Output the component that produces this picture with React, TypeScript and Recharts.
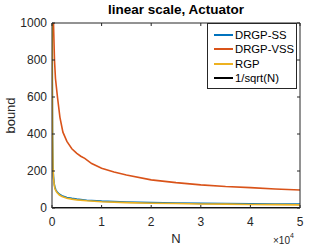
import { LineChart, Line, XAxis, YAxis } from "recharts";

const ssN = [10, 30, 60, 100, 150, 200, 300, 450, 600, 800, 1000, 1500, 2000, 3000, 4000, 5000, 7000, 10000, 15000, 20000, 25000, 30000, 35000, 40000, 45000, 50000];
const ssValues = [3000, 1400, 700, 420, 300, 220, 170, 130, 110, 97, 88, 74, 66, 57, 52, 48, 42, 37, 32, 29, 27, 25, 24, 23, 22, 22];
const rgpValues = [3000, 1350, 680, 400, 285, 210, 160, 124, 104, 92, 84, 70, 62, 53, 48, 44, 39, 34, 29, 26, 24, 22, 21, 19, 18, 17];

const vssN = [100, 300, 500, 700, 1100, 1600, 2200, 3000, 4000, 5000, 5800, 6600, 8000, 10000, 12500, 15000, 20000, 25000, 30000, 35000, 40000, 45000, 50000];
const vssValues = [2000, 1000, 800, 700, 600, 490, 410, 360, 320, 295, 280, 268, 240, 215, 195, 178, 152, 137, 125, 116, 110, 103, 97];

const invN = [1, 10, 100, 1000, 10000, 50000];
const invValues = [1, 0.32, 0.1, 0.032, 0.01, 0.0045];

const xTicks = [0, 10000, 20000, 30000, 40000, 50000];
const yTicks = [0, 200, 400, 600, 800, 1000];

const seriesNames = ["DRGP-SS", "DRGP-VSS", "RGP", "1/sqrt(N)"];
const colors = ["#0072BD", "#D95319", "#EDB120", "#000000"];

const zip = (ns: number[], vs: number[]) => ns.map((n, i) => ({ n, v: vs[i] }));

const ssData = zip(ssN, ssValues);
const vssData = zip(vssN, vssValues);
const rgpData = zip(ssN, rgpValues);
const invData = zip(invN, invValues);

const FONT = '"Liberation Sans", Arial, Helvetica, sans-serif';
const AXIS = "#262626";

const LegendBox = () => (
  <div
    style={{
      position: "absolute",
      left: 207,
      top: 23,
      width: 90,
      background: "#fff",
      border: "1px solid #262626",
      padding: "4px 0 3px 6px",
      boxSizing: "border-box",
      fontFamily: FONT,
      fontSize: 11.3,
      color: "#000",
      lineHeight: "14.3px",
    }}
  >
    {seriesNames.map((name, i) => (
      <div key={name} style={{ display: "flex", alignItems: "center" }}>
        <span style={{ display: "inline-block", width: 19, height: 2, background: colors[i], marginRight: 2 }} />
        <span>{name}</span>
      </div>
    ))}
  </div>
);

export default function App() {
  return (
    <div style={{ position: "absolute", left: 0, top: 0, width: 332, height: 249, background: "#fff", fontFamily: FONT }}>
      <LineChart width={332} height={249} margin={{ top: 22, right: 31, bottom: 1, left: 0 }}>
        <XAxis
          xAxisId="b"
          type="number"
          dataKey="n"
          domain={[0, 50000]}
          ticks={xTicks}
          allowDataOverflow
          height={40}
          stroke={AXIS}
          tickSize={-3}
          tickMargin={12}
          tick={{ fill: AXIS, fontSize: 12, fontFamily: FONT }}
          tickFormatter={(v: number) => String(v / 10000)}
          label={{ value: "N", position: "insideBottom", offset: 5, fill: AXIS, fontSize: 13, fontFamily: FONT }}
        />
        <XAxis
          xAxisId="t"
          orientation="top"
          type="number"
          dataKey="n"
          domain={[0, 50000]}
          ticks={xTicks}
          allowDataOverflow
          height={1}
          stroke={AXIS}
          tickSize={-3}
          tickMargin={0}
          tick={{ fontSize: 1 }}
          tickFormatter={() => ""}
        />
        <YAxis
          yAxisId="l"
          type="number"
          domain={[0, 1000]}
          ticks={yTicks}
          allowDataOverflow
          width={52}
          stroke={AXIS}
          tickSize={-3}
          tickMargin={8}
          tick={{ fill: AXIS, fontSize: 12, fontFamily: FONT }}
          label={{ value: "bound", angle: -90, position: "insideLeft", offset: 10, fill: AXIS, fontSize: 13, fontFamily: FONT, style: { textAnchor: "middle" } }}
        />
        <YAxis
          yAxisId="r"
          orientation="right"
          type="number"
          domain={[0, 1000]}
          ticks={yTicks}
          allowDataOverflow
          width={1}
          stroke={AXIS}
          tickSize={-3}
          tickMargin={0}
          tick={{ fontSize: 1 }}
          tickFormatter={() => ""}
        />
        <Line xAxisId="b" yAxisId="l" data={ssData} dataKey="v" name={seriesNames[0]} stroke={colors[0]} strokeWidth={1.6} dot={false} isAnimationActive={false} />
        <Line xAxisId="b" yAxisId="l" data={vssData} dataKey="v" name={seriesNames[1]} stroke={colors[1]} strokeWidth={1.6} dot={false} isAnimationActive={false} />
        <Line xAxisId="b" yAxisId="l" data={rgpData} dataKey="v" name={seriesNames[2]} stroke={colors[2]} strokeWidth={1.6} dot={false} isAnimationActive={false} />
        <Line xAxisId="b" yAxisId="l" data={invData} dataKey="v" name={seriesNames[3]} stroke={colors[3]} strokeWidth={2} dot={false} isAnimationActive={false} />
        {/* same series on the mirrored axes so the top/right box edges get drawn */}
        <Line xAxisId="t" yAxisId="r" data={invData} dataKey="v" stroke="none" strokeOpacity={0} dot={false} legendType="none" isAnimationActive={false} />
      </LineChart>
      <div
        style={{
          position: "absolute",
          left: 52,
          width: 248,
          top: 2,
          textAlign: "center",
          fontWeight: "bold",
          fontSize: 13.5,
          color: "#000",
        }}
      >
        linear scale, Actuator
      </div>
      <div style={{ position: "absolute", left: 273, top: 235, fontSize: 10, color: AXIS, whiteSpace: "nowrap" }}>
        ×10<sup style={{ fontSize: 7, verticalAlign: "top", position: "relative", top: -3 }}>4</sup>
      </div>
      <LegendBox />
    </div>
  );
}
